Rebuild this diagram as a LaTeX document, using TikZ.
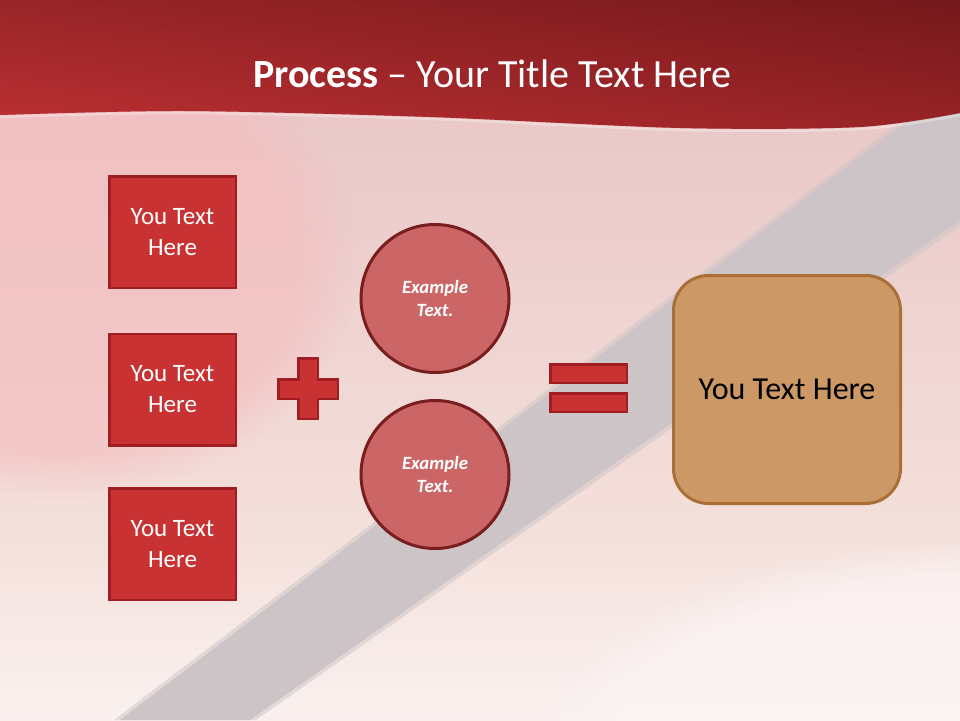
\documentclass[tikz,border=0pt]{standalone}
\usepackage{fontspec}
\setmainfont{Carlito}
\usetikzlibrary{fadings}
\definecolor{bgA}{RGB}{251,245,244}
\definecolor{bgB}{RGB}{244,224,219}
\definecolor{bgC}{RGB}{235,204,203}
\definecolor{bgD}{RGB}{229,186,189}
\definecolor{bgE}{RGB}{228,180,184}
\definecolor{pinkTL}{RGB}{245,188,190}
\definecolor{bandgray}{RGB}{204,196,198}
\definecolor{paleW}{RGB}{252,246,246}
\definecolor{hdrTop}{RGB}{126,27,30}
\definecolor{hdrBot}{RGB}{180,44,47}
\definecolor{hdrL}{RGB}{205,56,59}
\definecolor{hdrR}{RGB}{100,20,22}
\definecolor{boxfill}{RGB}{200,50,50}
\definecolor{boxborder}{RGB}{160,30,35}
\definecolor{circfill}{RGB}{204,102,102}
\definecolor{circborder}{RGB}{120,30,30}
\definecolor{tanfill}{RGB}{204,153,102}
\definecolor{tanborder}{RGB}{170,110,55}
\pgfdeclareverticalshading{bgshade}{100bp}{color(0bp)=(bgA); color(22bp)=(bgA); color(38bp)=(bgB); color(62bp)=(bgC); color(85bp)=(bgD); color(100bp)=(bgE)}
\tikzset{
  redbox/.style={draw=boxborder, line width=2.5pt, fill=boxfill, minimum width=126.5pt, minimum height=111.5pt, inner sep=0pt, text=white, font=\fontsize{25}{31}\selectfont, align=center},
  circ/.style={circle, draw=circborder, line width=3pt, fill=circfill, minimum size=148pt, inner sep=0pt, text=white, font=\fontsize{18.7}{23}\selectfont\bfseries\itshape, align=center},
  bar/.style={draw=boxborder, line width=2.5pt, fill=boxfill, minimum width=76.5pt, minimum height=18.5pt, inner sep=0pt},
  tanbox/.style={draw=tanborder, line width=3pt, fill=tanfill, rounded corners=35pt, minimum width=227pt, minimum height=228pt, inner sep=0pt, text=black, font=\fontsize{32}{38}\selectfont, align=center},
  symb/.style={draw=boxborder, line width=2.5pt, fill=boxfill}
}
\begin{document}
\begin{tikzpicture}[x=1pt,y=-1pt]
\useasboundingbox (0,0) rectangle (960,720);
% background
\shade[shading=bgshade] (0,0) rectangle (960,720);
\fill[pinkTL, opacity=0.6, path fading=circle with fuzzy edge 20 percent] (60,260) ellipse (300pt and 240pt);
\fill[paleW, opacity=0.7, path fading=circle with fuzzy edge 20 percent] (980,740) ellipse (440pt and 200pt);
% diagonal band
\fill[bandgray, opacity=0.5] (114,720) -- (960,76) -- (960,226) -- (256,720) -- cycle;
\fill[bandgray] (120,720) -- (960,81) -- (960,220) -- (250,720) -- cycle;
% header
\shade[top color=hdrTop, bottom color=hdrBot]
  (0,0) -- (960,0) -- plot[smooth] coordinates {(960,113) (860,127) (680,128) (430,117) (184,111) (0,115)} -- cycle;
\shade[left color=hdrL, right color=hdrR, opacity=0.35]
  (0,0) -- (960,0) -- plot[smooth] coordinates {(960,113) (860,127) (680,128) (430,117) (184,111) (0,115)} -- cycle;
\draw[white, opacity=0.3, line width=2.5pt] plot[smooth] coordinates {(960,115) (860,129) (680,130) (430,119) (184,113) (0,117)};
\node[anchor=base, text=white, font=\fontsize{40}{48}\selectfont, inner sep=0pt] (title) at (492.5,87) {\textbf{Process} – Your Title Text Here};
% left boxes
\node[redbox] (b1) at (172.5,232) {You Text\\Here};
\node[redbox] (b2) at (172.5,389.5) {You Text\\Here};
\node[redbox] (b3) at (172.5,544) {You Text\\Here};
% plus
\draw[symb] (298.25,358.25) -- (317.75,358.25) -- (317.75,379.25) -- (337.75,379.25) -- (337.75,398.75) -- (317.75,398.75) -- (317.75,418.75) -- (298.25,418.75) -- (298.25,398.75) -- (278.25,398.75) -- (278.25,379.25) -- (298.25,379.25) -- cycle;
% circles
\node[circ] (c1) at (435,298.5) {Example\\Text.};
\node[circ] (c2) at (435,474.5) {Example\\Text.};
% equals
\node[bar] (e1) at (588.5,373.5) {};
\node[bar] (e2) at (588.5,402.5) {};
% result
\node[tanbox] (r) at (787,389.5) {You Text Here};
\end{tikzpicture}
\end{document}
